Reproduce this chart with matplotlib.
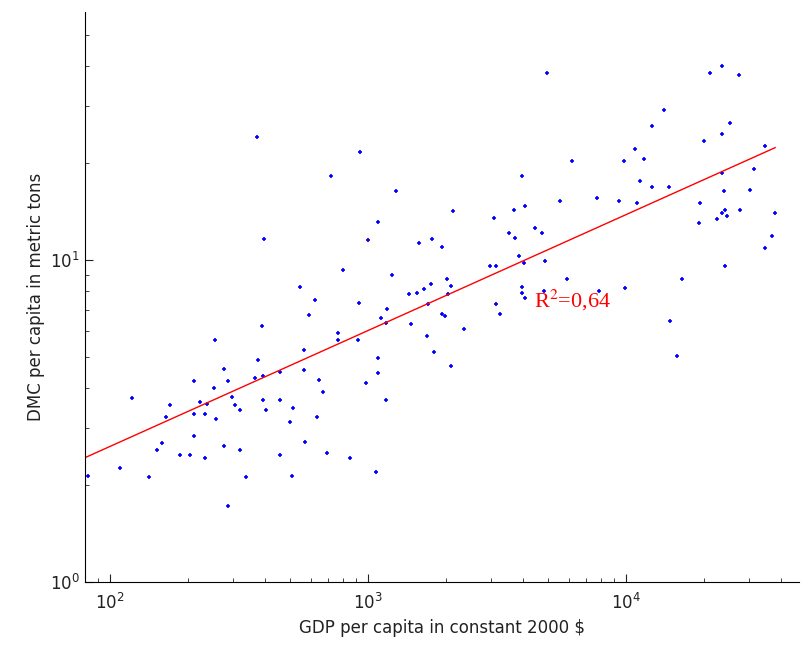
import numpy as np
import matplotlib
matplotlib.use("Agg")
import matplotlib.pyplot as plt

# GDP per capita ($) and DMC per capita (t)
gdp = [82, 109, 122, 142, 152, 159, 165, 171, 187, 204, 212, 212, 212, 223, 234, 238, 253, 255,
       258, 234, 277, 277, 287, 287, 297, 305, 319, 319, 337, 365, 371, 375, 388, 392, 392, 395,
       402, 456, 456, 456, 499, 507, 512, 545, 565, 565, 570, 590, 623, 635, 646, 669, 694, 719,
       766, 766, 800, 851, 914, 922, 931, 982, 1000, 1074, 1094, 1094, 1094, 1122, 1174, 1174,
       1186, 1285, 1239,
       1442, 1549, 1578, 1649, 1754, 1771, 1936, 1468, 1695, 1711, 1805, 1936, 1988, 2024, 2040,
       2098, 2098, 2135, 2355, 2971, 3133, 3078, 3133, 3250, 3524, 3684, 3718, 3850, 3952, 3952,
       3952, 4062, 4062, 4030, 4436, 4721, 4853, 4810, 4940, 5547, 5904, 6180, 7727, 7860, 9390,
       9820, 9910, 10840, 11040, 11330, 11740, 12620, 12620, 14040, 14690, 14810, 15800, 16500,
       19190, 19360, 20070, 21170, 22540, 23560, 23560, 23560, 23560, 23990, 24210, 24620, 24210,
       25290, 27400, 27640, 30240, 31340, 34590, 34590, 36810, 37850]
dmc = [2.13, 2.26, 3.73, 2.12, 2.57, 2.70, 3.25, 3.55, 2.48, 2.48, 4.21, 3.33, 2.84, 3.62, 3.33,
       3.57, 4.0, 5.65, 3.21, 2.43, 4.58, 2.64, 4.21, 1.72, 3.76, 3.55, 3.42, 2.57, 2.12, 4.30,
       24.1, 4.89, 6.24, 4.37, 3.67, 11.6, 3.42, 4.49, 3.67, 2.48, 3.14, 2.13, 3.47, 8.24, 5.25,
       4.55, 2.72, 6.75, 7.52, 3.25, 4.24, 3.89, 2.51, 18.2, 5.93, 5.65, 9.31, 2.43, 5.65, 7.35,
       21.6, 4.15, 11.5, 2.2, 13.1, 4.97, 4.46, 6.6, 6.37, 3.67, 7.04, 16.4, 8.98,
       7.84, 7.9, 11.3, 8.13, 8.42, 11.6, 11.0, 6.32, 5.81, 7.3, 5.18, 6.8, 6.7, 8.73, 7.84, 8.3,
       4.69, 14.2, 6.1, 9.58, 9.58, 13.5, 7.3, 6.8, 12.1, 14.3, 11.7, 10.3, 18.2, 8.24, 7.9, 14.7,
       7.62, 9.8, 12.6, 12.1, 9.93, 8.0, 38.1, 15.2, 8.73, 20.3, 15.6, 8.0, 15.2, 20.3, 8.19,
       22.1, 15.0, 17.6, 20.6, 26.1, 16.8, 29.3, 16.8, 6.47, 5.04, 8.73, 13.0, 15.0, 23.4, 38.1,
       13.4, 40.0, 24.6, 18.6, 14.0, 16.4, 14.3, 13.7, 9.58, 26.6, 37.6, 14.3, 16.5, 19.1, 22.6,
       10.9, 11.9, 14.0]
r2_label = "R$^2$=0,64"

gdp = np.array(gdp, dtype=float)
dmc = np.array(dmc, dtype=float)

plt.rcParams["mathtext.fontset"] = "stix"

# log-log fit
b, a = np.polyfit(np.log10(gdp), np.log10(dmc), 1)
xs = np.logspace(np.log10(80), np.log10(gdp.max()), 100)
ys = 10 ** (a + b * np.log10(xs))

fig = plt.figure(figsize=(8.01, 6.5), dpi=100)
ax = fig.add_axes([0.106, 0.105, 0.892, 0.877])
ax.plot(gdp, dmc, "b+", ms=3.5, mew=1.2)
ax.plot(xs, ys, color="red", lw=1)
ax.set_xscale("log")
ax.set_yscale("log")
ax.set_xlim(80, 47000)
ax.set_ylim(1, 59)

ax.text(4400, 7.5, r2_label, color="red", fontsize=16, family="Liberation Serif", va="center")

for s in ["top", "right"]:
    ax.spines[s].set_visible(False)
ax.tick_params(which="both", direction="in", labelsize=12, colors="#222222")
ax.tick_params(which="major", length=6)
ax.tick_params(which="minor", length=3)
ax.tick_params(axis="x", pad=8)
ax.set_xlabel("GDP per capita in constant 2000 $", fontsize=12, color="#222222")
ax.set_ylabel("DMC per capita in metric tons", fontsize=12, color="#222222")

fig.savefig("out.png", dpi=100)
